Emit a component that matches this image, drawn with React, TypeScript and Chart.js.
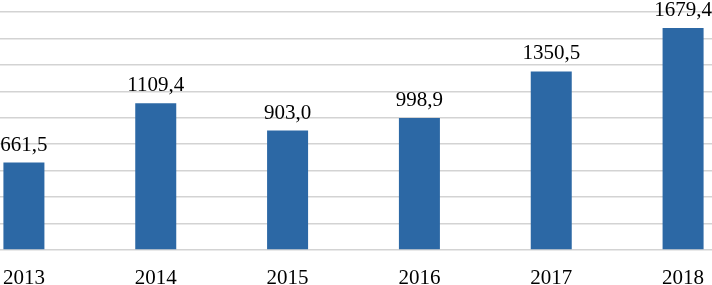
import React, { useEffect, useRef } from "react";
import { Chart, registerables } from "chart.js";

Chart.register(...registerables);

const categories = ["2013", "2014", "2015", "2016", "2017", "2018"];
const values = [661.5, 1109.4, 903.0, 998.9, 1350.5, 1679.4];
const yMax = 1800;
const yStep = 200;

const FONT = '"Liberation Serif", "Times New Roman", serif';

const valueLabels = {
  id: "valueLabels",
  afterDatasetsDraw(chart: any) {
    const ctx = chart.ctx;
    const meta = chart.getDatasetMeta(0);
    ctx.save();
    ctx.font = `21px ${FONT}`;
    ctx.fillStyle = "#000000";
    ctx.textAlign = "center";
    ctx.textBaseline = "alphabetic";
    meta.data.forEach((bar: any, i: number) => {
      const txt = values[i].toFixed(1).replace(".", ",");
      ctx.fillText(txt, bar.x, bar.y - 12);
    });
    ctx.restore();
  },
};

export default function App() {
  const ref = useRef<HTMLCanvasElement>(null);
  useEffect(() => {
    if (!ref.current) return;
    const chart = new Chart(ref.current, {
      type: "bar",
      data: {
        labels: categories,
        datasets: [
          {
            data: values,
            backgroundColor: "#2c68a5",
            barPercentage: 0.311,
            categoryPercentage: 1,
          },
        ],
      },
      options: {
        responsive: false,
        animation: false,
        devicePixelRatio: 1,
        layout: { padding: { top: 12, left: 0, right: 0, bottom: 0 } },
        plugins: { legend: { display: false }, tooltip: { enabled: false } },
        scales: {
          x: {
            grid: { display: false },
            border: { display: false },
            ticks: {
              color: "#000000",
              font: { family: FONT, size: 21 },
              padding: 8,
              maxRotation: 0,
            },
            afterFit(scale: any) {
              scale.height = 35;
            },
          },
          y: {
            min: 0,
            max: yMax,
            ticks: { display: false, stepSize: yStep },
            grid: { color: "#d3d3d3", lineWidth: 1.5, drawTicks: false },
            border: { display: false },
            afterFit(scale: any) {
              scale.width = 0;
            },
          },
        },
      },
      plugins: [valueLabels],
    });
    return () => chart.destroy();
  }, []);
  return (
    <div
      style={{
        position: "fixed",
        left: 0,
        top: 0,
        width: 712,
        height: 285,
        overflow: "hidden",
        background: "#ffffff",
      }}
    >
      <canvas
        ref={ref}
        width={791}
        height={285}
        style={{ position: "absolute", left: -42, top: 0, width: 791, height: 285 }}
      />
    </div>
  );
}
